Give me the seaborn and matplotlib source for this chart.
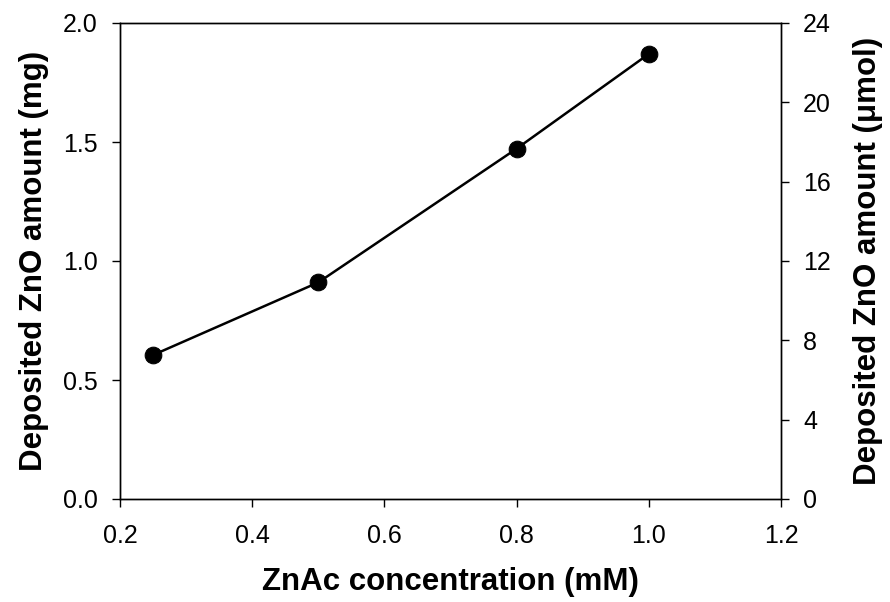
import matplotlib
matplotlib.use("Agg")
import matplotlib.pyplot as plt
import seaborn as sns
import pandas as pd

concentration = [0.25, 0.5, 0.8, 1.0]
amount_mg = [0.605, 0.91, 1.472, 1.87]
x_ticks = [0.2, 0.4, 0.6, 0.8, 1.0, 1.2]
y_ticks = [0.0, 0.5, 1.0, 1.5, 2.0]
y2_ticks = [0, 4, 8, 12, 16, 20, 24]

sns.set_theme(style="ticks")
plt.rcParams['font.family'] = ['Liberation Sans', 'DejaVu Sans']
plt.rcParams['text.color'] = 'black'
plt.rcParams['axes.labelcolor'] = 'black'

df = pd.DataFrame({"conc": concentration, "mg": amount_mg})

L, R, T, B = 120, 781, 23, 499
fig = plt.figure(figsize=(8.9, 6.02), dpi=100)
ax = fig.add_axes([L/890, 1-B/602, (R-L)/890, (B-T)/602])
sns.lineplot(data=df, x="conc", y="mg", ax=ax, color="black", linewidth=1.8,
             marker="o", markersize=12, markeredgecolor="black", markerfacecolor="black")

ax.set_xlim(0.2, 1.2)
ax.set_ylim(0, 2.0)
ax.set_xticks(x_ticks)
ax.set_xticklabels([f"{v:.1f}" for v in x_ticks])
ax.set_yticks(y_ticks)
ax.set_yticklabels([f"{v:.1f}" for v in y_ticks])
ax.tick_params(axis="x", direction="out", length=6, width=1, labelsize=18,
               colors="black", pad=12)
ax.tick_params(axis="y", direction="out", length=6, width=1, labelsize=18,
               colors="black", pad=10)
ax.set_xlabel("ZnAc concentration (mM)", fontsize=22.5, fontweight="bold", labelpad=14)
ax.set_ylabel("Deposited ZnO amount (mg)", fontsize=22.5, fontweight="bold", labelpad=10)
for s in ax.spines.values():
    s.set_color("black")
    s.set_linewidth(1)

ax2 = ax.twinx()
ax2.set_ylim(0, 24)
ax2.set_yticks(y2_ticks)
ax2.set_yticklabels([str(v) for v in y2_ticks])
ax2.tick_params(axis="y", direction="out", length=6, width=1, labelsize=18,
                colors="black", pad=10)
ax2.set_ylabel("Deposited ZnO amount (\u03bcmol)", fontsize=22.5, fontweight="bold", labelpad=16)
for s in ax2.spines.values():
    s.set_color("black")
    s.set_linewidth(1)

fig.savefig("out.png", dpi=100)
